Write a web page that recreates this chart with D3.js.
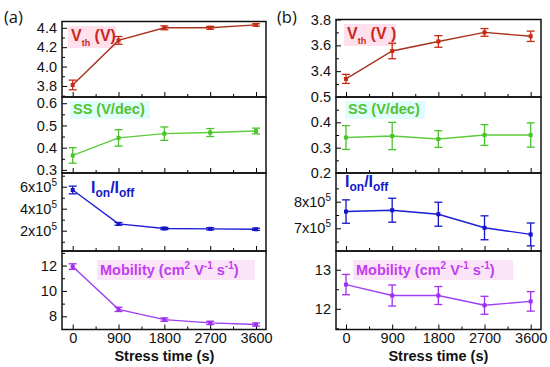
<!DOCTYPE html>
<html>
<head>
<meta charset="utf-8">
<script src="https://cdn.jsdelivr.net/npm/d3@7"></script>
<style>
  html, body { margin: 0; padding: 0; background: #fff; }
  svg { display: block; font-family: "Liberation Sans", Arial, sans-serif; }
</style>
</head>
<body>
<svg id="chart" width="550" height="367"></svg>
<script>
// ---------- DATA ----------
const stressTimes = [0, 900, 1800, 2700, 3600];
const xTickLabels = ["0", "900", "1800", "2700", "3600"];

// panel (a)
const vthA      = [3.81, 4.27, 4.40, 4.40, 4.43];
const vthErrA   = [0.05, 0.04, 0.02, 0.015, 0.012];
const ssA       = [0.365, 0.444, 0.463, 0.468, 0.475];
const ssErrA    = [0.035, 0.037, 0.03, 0.018, 0.013];
const ionA      = [5.70e5, 2.62e5, 2.20e5, 2.17e5, 2.13e5];
const ionErrA   = [0.35e5, 0.12e5, 0.10e5, 0.10e5, 0.10e5];
const mobA      = [11.92, 8.55, 7.74, 7.48, 7.35];
const mobErrA   = [0.22, 0.17, 0.13, 0.13, 0.12];

// panel (b)
const vthB      = [3.34, 3.556, 3.63, 3.70, 3.67];
const vthErrB   = [0.035, 0.06, 0.045, 0.03, 0.04];
const ssB       = [0.340, 0.346, 0.334, 0.350, 0.350];
const ssErrB    = [0.047, 0.054, 0.033, 0.041, 0.048];
const ionB      = [7.63e5, 7.68e5, 7.53e5, 7.02e5, 6.77e5];
const ionErrB   = [0.44e5, 0.45e5, 0.45e5, 0.45e5, 0.43e5];
const mobB      = [12.62, 12.34, 12.34, 12.09, 12.19];
const mobErrB   = [0.26, 0.27, 0.23, 0.23, 0.25];

// tick values
const vthTicksA = [3.8, 4.0, 4.2, 4.4];
const ssTicksA  = [0.3, 0.4, 0.5, 0.6];
const ionTicksA = [2e5, 4e5, 6e5];
const mobTicksA = [8, 10, 12];
const vthTicksB = [3.4, 3.6, 3.8];
const ssTicksB  = [0.2, 0.3, 0.4, 0.5];
const ionTicksB = [7e5, 8e5];
const mobTicksB = [12, 13];

// ---------- STYLE ----------
const C = {
  vthLine: "#a8321c", vthMark: "#c62a14", vthLabel: "#c8281c", vthHi: "#ffe0ec",
  ssLine: "#5ccc3a", ssMark: "#4cc22c", ssLabel: "#52c22e", ssHi: "#e0fcfc",
  ionLine: "#1c1cd8", ionMark: "#1414c8", ionLabel: "#1818c8", ionHi: null,
  mobLine: "#9d40f2", mobMark: "#a030f0", mobLabel: "#c23ef0", mobHi: "#fce4f8"
};

const svg = d3.select("#chart");

function buildColumn(cfg) {
  const x = d3.scaleLinear().domain(cfg.xDomain).range([cfg.x0, cfg.x1]);
  cfg.panels.forEach((p, i) => {
    const yTop = cfg.bounds[i], yBot = cfg.bounds[i + 1];
    const y = d3.scaleLinear().domain(p.domain).range([yBot, yTop]);
    const g = svg.append("g");

    // label highlight
    if (p.hi) {
      g.append("rect").attr("x", p.hiBox[0]).attr("y", p.hiBox[1])
        .attr("width", p.hiBox[2]).attr("height", p.hiBox[3])
        .attr("fill", p.hi);
    }

    // y axis major ticks (inward)
    const yAx = g.append("g").attr("transform", `translate(${cfg.x0},0)`)
      .call(d3.axisLeft(y).tickValues(p.ticks).tickSize(-5).tickPadding(5)
        .tickFormat(p.fmt || (d => d3.format(".1f")(d))));
    yAx.select(".domain").remove();
    yAx.selectAll("text").attr("font-size", 14.5).attr("fill", "#111");
    if (p.sci) {
      yAx.selectAll(".tick text").each(function(d) {
        const t = d3.select(this);
        t.text("");
        t.append("tspan").text(Math.round(d / 1e5) + "x10");
        t.append("tspan").attr("dy", -6).attr("font-size", 10).text("5");
      });
    }
    // y minor ticks
    const yMin = g.append("g").attr("transform", `translate(${cfg.x0},0)`)
      .call(d3.axisLeft(y).tickValues(p.minor).tickSize(-3).tickFormat(""));
    yMin.select(".domain").remove();

    // x ticks (inward from bottom)
    const last = i === cfg.panels.length - 1;
    const xAx = g.append("g").attr("transform", `translate(0,${yBot})`)
      .call(d3.axisBottom(x).tickValues(stressTimes).tickSize(-5).tickPadding(3.5)
        .tickFormat((d, k) => last ? xTickLabels[k] : ""));
    xAx.select(".domain").remove();
    xAx.selectAll("text").attr("font-size", 14.5).attr("fill", "#111");
    const xMin = g.append("g").attr("transform", `translate(0,${yBot})`)
      .call(d3.axisBottom(x).tickValues([450, 1350, 2250, 3150]).tickSize(-3).tickFormat(""));
    xMin.select(".domain").remove();

    // frame
    g.append("rect").attr("x", cfg.x0).attr("y", yTop)
      .attr("width", cfg.x1 - cfg.x0).attr("height", yBot - yTop)
      .attr("fill", "none").attr("stroke", "#111").attr("stroke-width", 1.5);

    // line
    const line = d3.line().x((d, k) => x(stressTimes[k])).y(d => y(d));
    g.append("path").datum(p.values).attr("d", line)
      .attr("fill", "none").attr("stroke", p.line).attr("stroke-width", 1.4);

    // error bars
    const eb = g.append("g").attr("stroke", p.mark).attr("stroke-width", 1.3);
    p.values.forEach((v, k) => {
      const cx = x(stressTimes[k]);
      const e = p.err[k];
      eb.append("line").attr("x1", cx).attr("x2", cx).attr("y1", y(v + e)).attr("y2", y(v - e));
      eb.append("line").attr("x1", cx - 4).attr("x2", cx + 4).attr("y1", y(v + e)).attr("y2", y(v + e));
      eb.append("line").attr("x1", cx - 4).attr("x2", cx + 4).attr("y1", y(v - e)).attr("y2", y(v - e));
    });
    // markers
    g.selectAll(".m").data(p.values).enter().append("rect")
      .attr("x", (d, k) => x(stressTimes[k]) - 2).attr("y", d => y(d) - 2)
      .attr("width", 4).attr("height", 4).attr("fill", p.mark);

    // label
    const lab = g.append("text").attr("x", p.labelPos[0]).attr("y", p.labelPos[1])
      .attr("fill", p.labelColor).attr("font-weight", "bold").attr("font-size", p.labelSize);
    p.label.forEach(seg => {
      const ts = lab.append("tspan").text(seg.t);
      if (seg.dy) ts.attr("dy", seg.dy);
      if (seg.fs) ts.attr("font-size", seg.fs);
    });
  });

  // x title
  svg.append("text").attr("x", (x(0) + x(3600)) / 2).attr("y", 361)
    .attr("text-anchor", "middle").attr("font-weight", "bold").attr("font-size", 14.5)
    .attr("fill", "#111").text("Stress time (s)");

  // panel tag
  svg.append("text").attr("x", cfg.tagX).attr("y", 23)
    .attr("font-family", "'Open Sans', sans-serif").attr("font-size", 16.5)
    .attr("fill", "#111").text(cfg.tag);
}

const vthLabel = [{t: "V"}, {t: "th", dy: 5, fs: 9}, {t: " (V)", dy: -5}];
const vthLabelB = [{t: "V"}, {t: "th", dy: 5, fs: 9}, {t: " (V )", dy: -5}];
const ssLabel = [{t: "SS (V/dec)"}];
const ionLabel = [{t: "I"}, {t: "on", dy: 4, fs: 12}, {t: "/I", dy: -4}, {t: "off", dy: 4, fs: 12}];
const mobLabel = [{t: "Mobility (cm"}, {t: "2", dy: -6, fs: 10}, {t: " V", dy: 6},
                  {t: "-1", dy: -6, fs: 10}, {t: " s", dy: 6}, {t: "-1", dy: -6, fs: 10}, {t: ")", dy: 6}];

buildColumn({
  tag: "(a)", tagX: 4,
  x0: 62, x1: 266, xDomain: [-210, 3796],
  bounds: [21.5, 97, 173, 251, 329.5],
  panels: [
    {values: vthA, err: vthErrA, domain: [3.686, 4.465], ticks: vthTicksA, minor: [3.7, 3.9, 4.1, 4.3],
     line: C.vthLine, mark: C.vthMark, labelColor: C.vthLabel, label: vthLabel, labelSize: 16,
     labelPos: [71, 41], hi: C.vthHi, hiBox: [68, 26, 48, 22]},
    {values: ssA, err: ssErrA, domain: [0.286, 0.628], ticks: ssTicksA, minor: [0.35, 0.45, 0.55],
     line: C.ssLine, mark: C.ssMark, labelColor: C.ssLabel, label: ssLabel, labelSize: 14.5,
     labelPos: [73, 114], hi: C.ssHi, hiBox: [70, 101, 80, 18]},
    {values: ionA, err: ionErrA, domain: [0.155e5, 7.245e5], ticks: ionTicksA, minor: [1e5, 3e5, 5e5, 7e5],
     sci: true, line: C.ionLine, mark: C.ionMark, labelColor: C.ionLabel, label: ionLabel, labelSize: 16,
     labelPos: [91, 193], hi: null},
    {values: mobA, err: mobErrA, domain: [6.96, 13.15], ticks: mobTicksA, minor: [7, 9, 11, 13],
     fmt: d => d, line: C.mobLine, mark: C.mobMark, labelColor: C.mobLabel, label: mobLabel, labelSize: 14.5,
     labelPos: [100, 275], hi: C.mobHi, hiBox: [97, 260, 158, 20]}
  ]
});

buildColumn({
  tag: "(b)", tagX: 277,
  x0: 336, x1: 541, xDomain: [-195, 3801],
  bounds: [19.5, 97, 173, 251, 329.5],
  panels: [
    {values: vthB, err: vthErrB, domain: [3.2, 3.8], ticks: vthTicksB, minor: [3.3, 3.5, 3.7],
     line: C.vthLine, mark: C.vthMark, labelColor: C.vthLabel, label: vthLabelB, labelSize: 16,
     labelPos: [347, 39], hi: C.vthHi, hiBox: [344, 24, 52, 22]},
    {values: ssB, err: ssErrB, domain: [0.2, 0.5], ticks: ssTicksB, minor: [0.25, 0.35, 0.45],
     line: C.ssLine, mark: C.ssMark, labelColor: C.ssLabel, label: ssLabel, labelSize: 14.5,
     labelPos: [348, 114], hi: C.ssHi, hiBox: [345, 101, 80, 18]},
    {values: ionB, err: ionErrB, domain: [6.147e5, 9.08e5], ticks: ionTicksB, minor: [6.5e5, 7.5e5, 8.5e5],
     sci: true, line: C.ionLine, mark: C.ionMark, labelColor: C.ionLabel, label: ionLabel, labelSize: 16,
     labelPos: [345, 187], hi: null},
    {values: mobB, err: mobErrB, domain: [11.47, 13.48], ticks: mobTicksB, minor: [11.5, 12.5],
     fmt: d => d, line: C.mobLine, mark: C.mobMark, labelColor: C.mobLabel, label: mobLabel, labelSize: 14.5,
     labelPos: [356, 275], hi: C.mobHi, hiBox: [353, 260, 160, 20]}
  ]
});
</script>
</body>
</html>
